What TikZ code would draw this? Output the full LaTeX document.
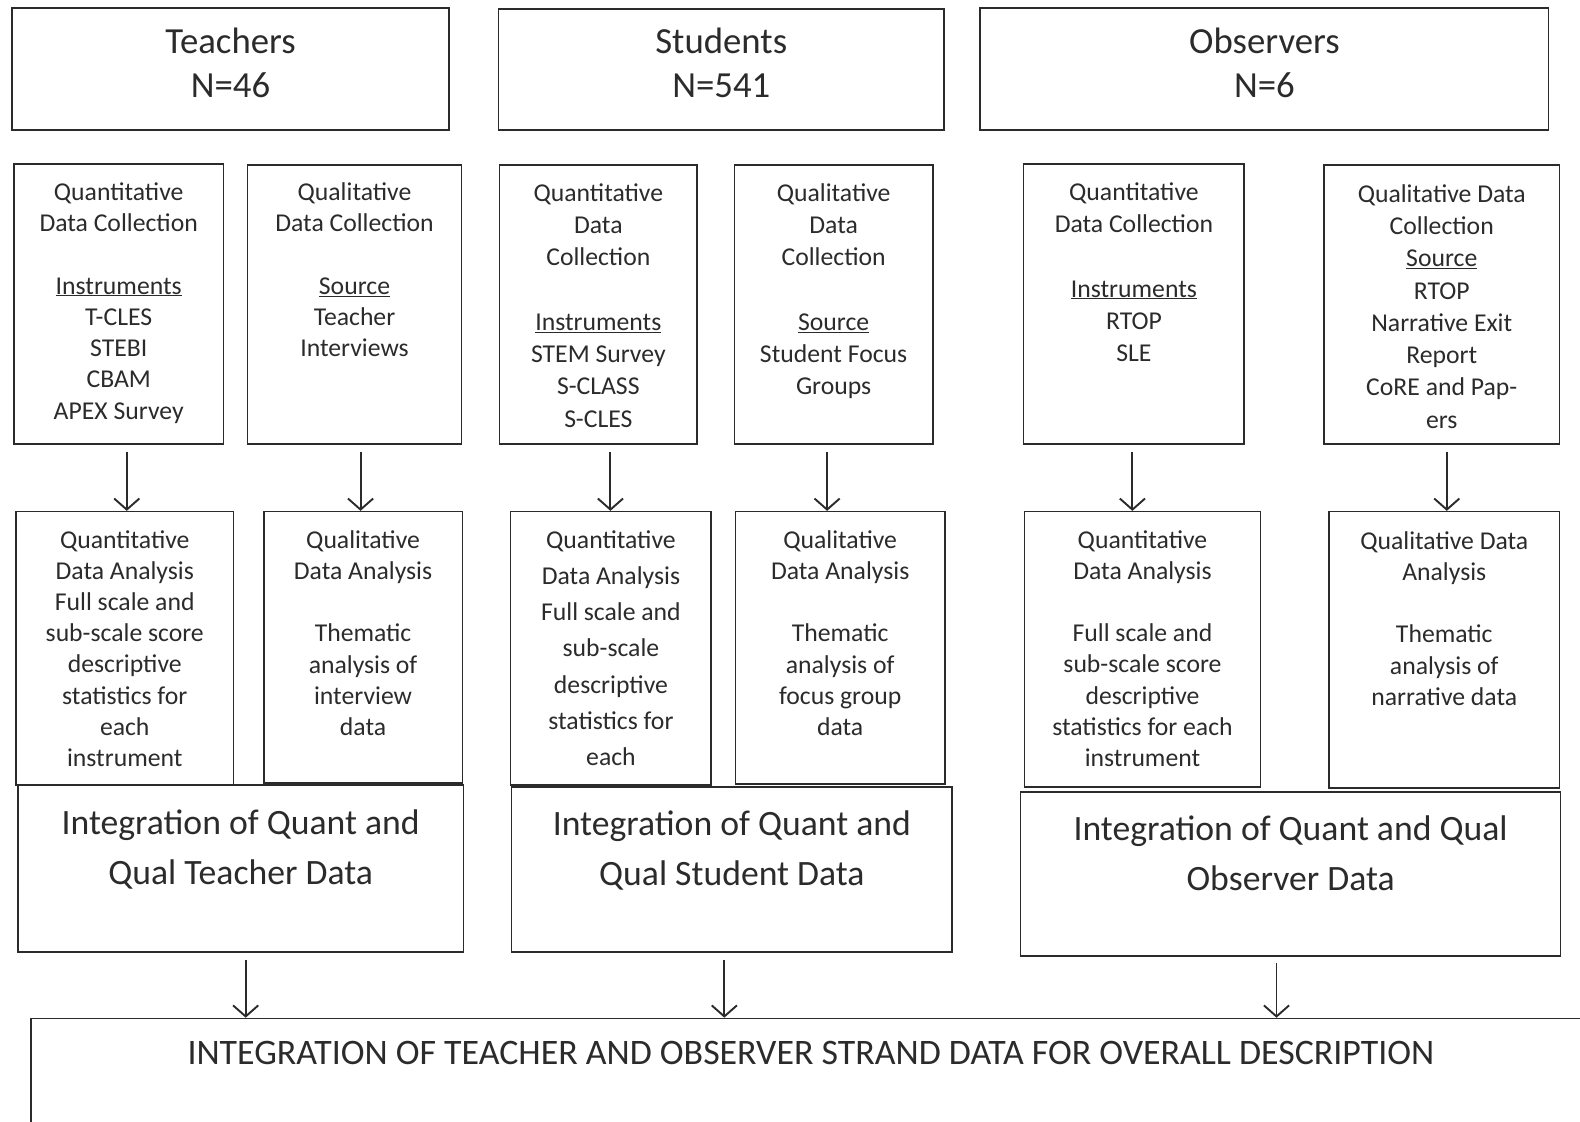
\documentclass[tikz,border=0pt]{standalone}
\usepackage{fontspec}
\setmainfont{Carlito}
\usetikzlibrary{arrows.meta}
\definecolor{ink}{HTML}{2B2B2B}
\tikzset{
	box/.style={draw=ink, line width=1.6pt, anchor=north west, inner sep=0pt},
	txt/.style={anchor=north, align=center, inner sep=0pt, text=ink,
			font=\fontsize{25.5}{31}\selectfont},
	head/.style={txt, font=\fontsize{36.5}{43}\selectfont},
	merge/.style={txt, font=\fontsize{35.4}{50}\selectfont},
	arr/.style={draw=ink, line width=1.9pt, -{Straight Barb[length=11pt,width=25pt]}}
}
\begin{document}
\begin{tikzpicture}[x=1pt, y=-1pt]
	\clip (0,0) rectangle (1568,1113);

	% groups
	\node[box, minimum width=434pt, minimum height=121pt] (teach) at (11,7) {};
	\node[head] (teach-t) at ([yshift=-21pt]teach.north) {Teachers\\N=46};
	\node[box, minimum width=442pt, minimum height=120pt] (stud) at (494,8) {};
	\node[head] (stud-t) at ([yshift=-20pt]stud.north) {Students\\N=541};
	\node[box, minimum width=564pt, minimum height=121pt] (obs) at (972,7) {};
	\node[head] (obs-t) at ([yshift=-21pt]obs.north) {Observers\\N=6};

	% data collection
	\node[box, minimum width=208pt, minimum height=278pt] (tqc) at (13,162) {};
	\node[txt] (tqc-t) at ([yshift=-19pt]tqc.north) {Quantitative\\Data Collection\\[31pt]\underline{Instruments}\\T-CLES\\STEBI\\CBAM\\APEX Survey};
	\node[box, minimum width=212pt, minimum height=277pt] (tlc) at (245,163) {};
	\node[txt] (tlc-t) at ([yshift=-18pt]tlc.north) {Qualitative\\Data Collection\\[31pt]\underline{Source}\\Teacher\\Interviews};
	\node[box, minimum width=196pt, minimum height=277pt] (sqc) at (495,163) {};
	\node[txt, font=\fontsize{25.5}{32}\selectfont] (sqc-t) at ([yshift=-19pt]sqc.north) {Quantitative\\Data\\Collection\\[32pt]\underline{Instruments}\\STEM Survey\\S-CLASS\\S-CLES};
	\node[box, minimum width=197pt, minimum height=277pt] (slc) at (728,163) {};
	\node[txt, font=\fontsize{25.5}{32}\selectfont] (slc-t) at ([yshift=-19pt]slc.north) {Qualitative\\Data\\Collection\\[32pt]\underline{Source}\\Student Focus\\Groups};
	\node[box, minimum width=219pt, minimum height=278pt] (oqc) at (1015,162) {};
	\node[txt, font=\fontsize{25.5}{32}\selectfont] (oqc-t) at ([yshift=-19pt]oqc.north) {Quantitative\\Data Collection\\[32pt]\underline{Instruments}\\RTOP\\SLE};
	\node[box, minimum width=234pt, minimum height=277pt] (olc) at (1313,163) {};
	\node[txt, font=\fontsize{25.5}{32}\selectfont] (olc-t) at ([yshift=-20pt]olc.north) {Qualitative Data\\Collection\\\underline{Source}\\RTOP\\Narrative Exit\\Report\\CoRE and Pap-\\ers};

	% data analysis
	\node[box, minimum width=216pt, minimum height=271pt] (tqa) at (15,507) {};
	\node[txt] (tqa-t) at ([yshift=-19pt]tqa.north) {Quantitative\\Data Analysis\\Full scale and\\sub-scale score\\descriptive\\statistics for\\each\\instrument};
	\node[box, minimum width=197pt, minimum height=269pt] (tla) at (261,507) {};
	\node[txt] (tla-t) at ([yshift=-19pt]tla.north) {Qualitative\\Data Analysis\\[31pt]Thematic\\analysis of\\interview\\data};
	\node[box, minimum width=199pt, minimum height=271pt] (sqa) at (506,507) {};
	\node[txt, font=\fontsize{25.5}{36}\selectfont] (sqa-t) at ([yshift=-19pt]sqa.north) {Quantitative\\Data Analysis\\Full scale and\\sub-scale\\descriptive\\statistics for\\each};
	\node[box, minimum width=208pt, minimum height=270pt] (sla) at (729,507) {};
	\node[txt] (sla-t) at ([yshift=-19pt]sla.north) {Qualitative\\Data Analysis\\[31pt]Thematic\\analysis of\\focus group\\data};
	\node[box, minimum width=234pt, minimum height=273pt] (oqa) at (1016,507) {};
	\node[txt] (oqa-t) at ([yshift=-19pt]oqa.north) {Quantitative\\Data Analysis\\[31pt]Full scale and\\sub-scale score\\descriptive\\statistics for each\\instrument};
	\node[box, minimum width=229pt, minimum height=274pt] (ola) at (1318,507) {};
	\node[txt] (ola-t) at ([yshift=-20pt]ola.north) {Qualitative Data\\Analysis\\[31pt]Thematic\\analysis of\\narrative data};

	% integration per strand
	\node[box, minimum width=442pt, minimum height=166pt] (tin) at (17,778) {};
	\node[merge] (tin-t) at ([yshift=-25pt]tin.north) {Integration of Quant and\\Qual Teacher Data};
	\node[box, minimum width=437pt, minimum height=164pt] (sin) at (507,780) {};
	\node[merge] (sin-t) at ([yshift=-24pt]sin.north) {Integration of Quant and\\Qual Student Data};
	\node[box, minimum width=536pt, minimum height=163pt] (oin) at (1012,785) {};
	\node[merge] (oin-t) at ([yshift=-24pt]oin.north) {Integration of Quant and Qual\\Observer Data};

	% overall
	\node[box, minimum width=1560pt, minimum height=200pt] (all) at (30,1010) {};
	\node[merge, font=\fontsize{35.6}{40}\selectfont] (all-t) at ([shift={(-6,23)}]all.north)
		{INTEGRATION OF TEACHER AND OBSERVER STRAND DATA FOR OVERALL DESCRIPTION};

	% arrows
	\draw[arr] ([shift={(8,7)}]tqc.south) -- ([xshift=2pt]tqa.north);
	\draw[arr] ([shift={(6,7)}]tlc.south) -- ([xshift=-2.5pt]tla.north);
	\draw[arr] ([shift={(12,7)}]sqc.south) -- ([xshift=-0.5pt]sqa.north);
	\draw[arr] ([shift={(-6.5,7)}]slc.south) -- ([xshift=-13pt]sla.north);
	\draw[arr] ([shift={(-1.5,7)}]oqc.south) -- ([xshift=-10pt]oqa.north);
	\draw[arr] ([shift={(5,7)}]olc.south) -- ([xshift=2.5pt]ola.north);
	\draw[arr] ([shift={(5,7)}]tin.south) -- ([xshift=-567pt]all.north);
	\draw[arr] ([shift={(-7.5,7)}]sin.south) -- ([xshift=-92pt]all.north);
	\draw[arr] ([shift={(-14,6)}]oin.south) -- ([xshift=456pt]all.north);
\end{tikzpicture}
\end{document}
